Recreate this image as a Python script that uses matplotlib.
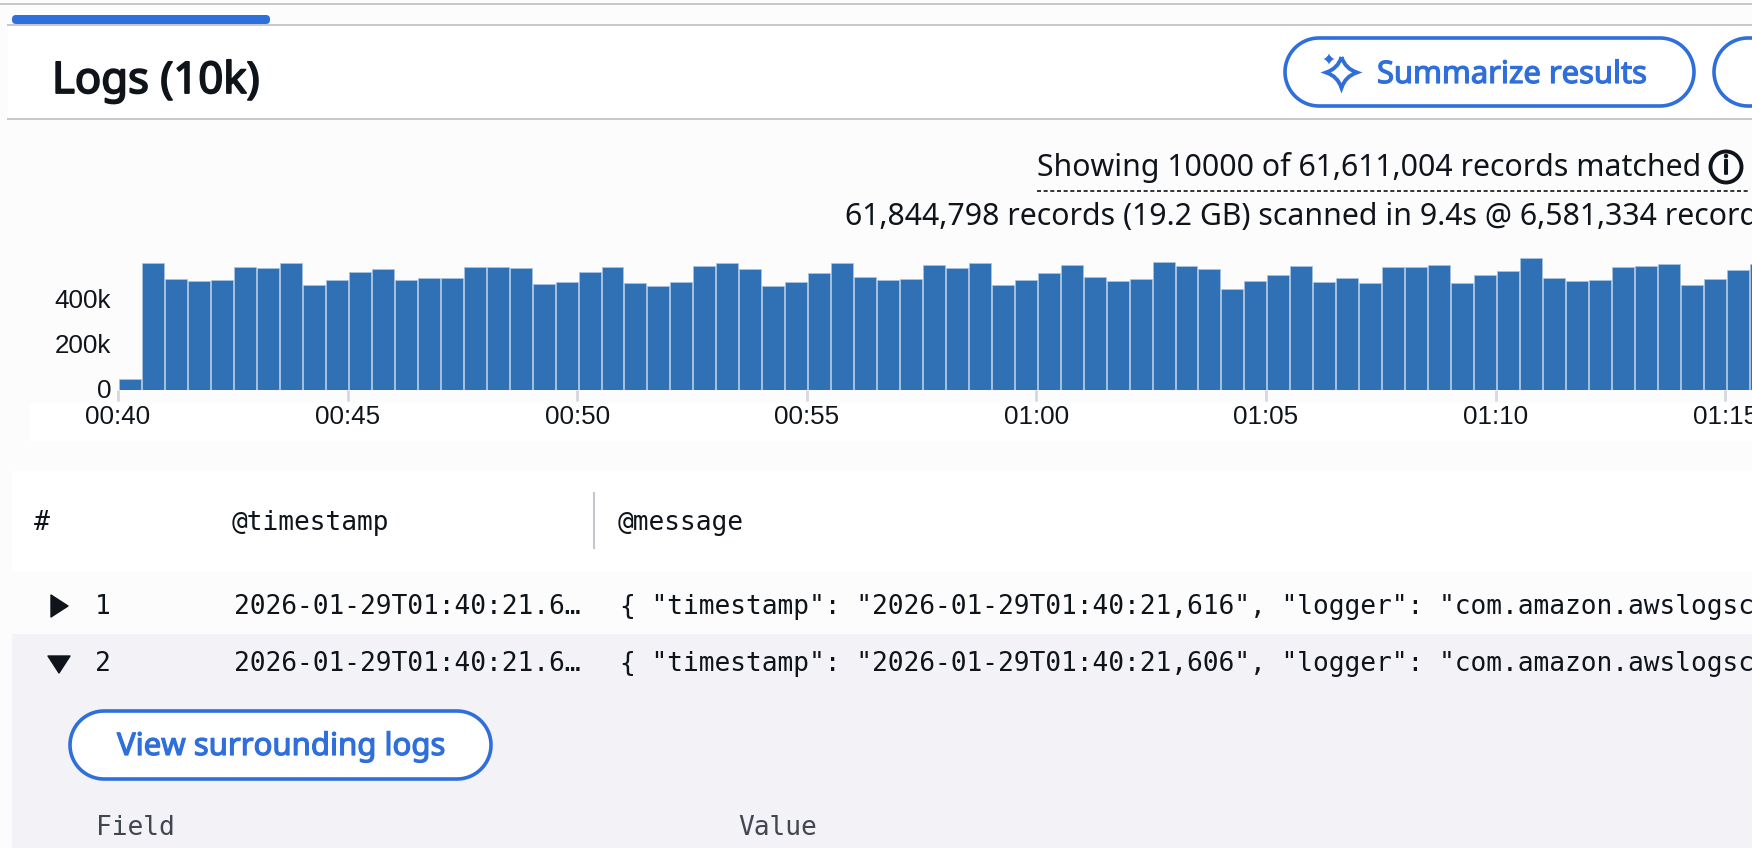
from __future__ import annotations

import matplotlib

matplotlib.use("Agg")
import matplotlib.patheffects as pe
import matplotlib.pyplot as plt
import numpy as np
from matplotlib.patches import Circle, FancyBboxPatch, PathPatch, Polygon, Rectangle
from matplotlib.path import Path
from matplotlib.transforms import ScaledTranslation

# records per 30 s bin (thousands)
bin_counts_k = [
    49, 570, 495, 488, 492, 549, 547, 567, 468, 491, 526, 543,
    491, 503, 500, 550, 552, 544, 473, 483, 529, 549, 480, 465,
    483, 553, 568, 543, 465, 483, 525, 567, 506, 491, 498, 558,
    547, 567, 471, 491, 525, 559, 504, 486, 497, 571, 553, 540,
    454, 486, 513, 553, 483, 500, 477, 552, 552, 561, 480, 516,
    531, 589, 501, 488, 491, 549, 556, 565, 471, 495, 538, 562,
]
tick_minutes = [0, 5, 10, 15, 20, 25, 30, 35]
tick_labels = ["00:40", "00:45", "00:50", "00:55", "01:00", "01:05", "01:10", "01:15"]
y_ticks_k = [0, 200, 400]
y_labels = ["0", "200k", "400k"]

title = "Logs (10k)"
button_summarize = "Summarize results"
button_surrounding = "View surrounding logs"
matched_line = "Showing 10000 of 61,611,004 records matched"
scanned_line = "61,844,798 records (19.2 GB) scanned in 9.4s @ 6,581,334 records/s"
columns = ["#", "@timestamp", "@message"]
row_numbers = ["1", "2"]
row_times = ["2026-01-29T01:40:21.6…", "2026-01-29T01:40:21.6…"]
row_messages = [
    '{ "timestamp": "2026-01-29T01:40:21,616", "logger": "com.amazon.awslogsc',
    '{ "timestamp": "2026-01-29T01:40:21,606", "logger": "com.amazon.awslogsc',
]
detail_columns = ["Field", "Value"]

WIDTH, HEIGHT = 1752, 848
BLUE = "#2f6fdb"
BAR = "#3071b6"
INK = "#0f141a"
RULE = "#c6c6cd"
SANS = "Noto Sans"
MONO = "DejaVu Sans Mono"
MONO_SIZE = 18.95

fig = plt.figure(figsize=(WIDTH / 100, HEIGHT / 100), dpi=100, facecolor="#fcfcfc")

# page furniture is laid out in pixels, y pointing down
ui = fig.add_axes([0, 0, 1, 1])
ui.set_xlim(0, WIDTH)
ui.set_ylim(HEIGHT, 0)
ui.axis("off")


def box(x0, y0, x1, y1, color):
    ui.add_patch(Rectangle((x0, y0), x1 - x0, y1 - y0, facecolor=color, edgecolor="none"))


def pill(x0, y0, x1, y1):
    r = (y1 - y0) / 2
    cy = (y0 + y1) / 2
    a = np.linspace(-np.pi / 2, np.pi / 2, 40)
    xs = np.r_[x1 - r + r * np.cos(a), x0 + r - r * np.cos(a)]
    ys = np.r_[cy + r * np.sin(a), cy - r * np.sin(a)]
    ui.add_patch(Polygon(np.c_[xs, ys], closed=True, facecolor="white",
                         edgecolor=BLUE, linewidth=2.6))


def star(cx, cy, r, **style):
    k = 0.24 * r
    verts = [(cx, cy - r), (cx + k, cy - k), (cx + r, cy), (cx + k, cy + k),
             (cx, cy + r), (cx - k, cy + k), (cx - r, cy), (cx - k, cy - k), (cx, cy - r)]
    codes = [Path.MOVETO] + [Path.CURVE3] * 8
    ui.add_patch(PathPatch(Path(verts, codes), **style))


def heavy(width, color):
    # the installed Noto Sans only comes out regular, so thicken it
    return [pe.withStroke(linewidth=width, foreground=color)]


box(8, 25, WIDTH, 118, "white")
box(30, 403, WIDTH, 441, "white")
box(12, 471, WIDTH, 571, "white")
box(12, 634, WIDTH, HEIGHT, "#f2f2f7")
ui.plot([0, WIDTH], [4, 4], color=RULE, lw=1.4)
ui.plot([8, WIDTH], [25, 25], color=RULE, lw=1.4)
ui.plot([8, WIDTH], [118.5, 118.5], color=RULE, lw=1.4)
ui.add_patch(FancyBboxPatch((12, 15), 258, 9, boxstyle="round,pad=0,rounding_size=4",
                            facecolor=BLUE, edgecolor="none"))

ui.text(52, 93, title, family=SANS, fontsize=31.4, color=INK, path_effects=heavy(1.3, INK))

pill(1285, 38, 1694, 106)
pill(1714, 38, 2100, 106)
star(1341.5, 72.5, 15.5, facecolor="none", edgecolor=BLUE, linewidth=2.8)
star(1329, 59, 5.5, facecolor=BLUE, edgecolor="none")
ui.text(1377, 83, button_summarize, family=SANS, fontsize=22.25, color=BLUE,
        path_effects=heavy(0.9, BLUE))

ui.text(1037, 176, matched_line, family=SANS, fontsize=21.75, color=INK)
ui.plot([1037, 1749], [190.7, 190.7], color=INK, lw=1.2, dashes=(2.4, 1.6))
ui.add_patch(Circle((1726, 167), 15.5, facecolor="none", edgecolor=INK, linewidth=2.8))
ui.text(1726, 167, "i", family=SANS, fontsize=19, color=INK, ha="center", va="center",
        path_effects=heavy(1.2, INK))
ui.text(845, 225.5, scanned_line, family=SANS, fontsize=21.75, color=INK)

ui.text(34, 530, columns[0], family=MONO, fontsize=MONO_SIZE, color=INK)
ui.text(232, 530, columns[1], family=MONO, fontsize=MONO_SIZE, color=INK)
ui.plot([594, 594], [493, 548], color=RULE, lw=1.5)
ui.text(618, 530, columns[2], family=MONO, fontsize=MONO_SIZE, color=INK)

ui.add_patch(Polygon([(51, 595), (68, 606), (51, 617)], closed=True, facecolor=INK,
                     edgecolor=INK, joinstyle="round", linewidth=1))
ui.add_patch(Polygon([(48, 656), (70, 656), (59, 673)], closed=True, facecolor=INK,
                     edgecolor=INK, joinstyle="round", linewidth=1))
for number, stamp, message, base in zip(row_numbers, row_times, row_messages, [614, 671]):
    ui.text(95, base, number, family=MONO, fontsize=MONO_SIZE, color=INK)
    ui.text(234, base, stamp, family=MONO, fontsize=MONO_SIZE, color=INK)
    ui.text(620, base, message, family=MONO, fontsize=MONO_SIZE, color=INK)

pill(70, 711, 491, 779)
ui.text(117, 755, button_surrounding, family=SANS, fontsize=22.4, color=BLUE,
        path_effects=heavy(0.9, BLUE))
ui.text(96, 835, detail_columns[0], family=MONO, fontsize=MONO_SIZE, color="#424650")
ui.text(738, 835, detail_columns[1], family=MONO, fontsize=MONO_SIZE, color="#424650")

# histogram: x in minutes after 00:40, y in thousands of records
left, base_y, top_y = 118, 390, 247
ax = fig.add_axes([left / WIDTH, (HEIGHT - base_y) / HEIGHT,
                   (WIDTH - left) / WIDTH, (base_y - top_y) / HEIGHT])
ax.patch.set_alpha(0)
bin_minutes = [i * 0.5 + 0.03 for i in range(len(bin_counts_k))]
ax.bar(bin_minutes, bin_counts_k, width=0.478, align="edge", color=BAR,
       edgecolor="#a8c5e2", linewidth=0.5)
ax.set_xlim(0, (WIDTH - left) / 45.92)
ax.set_ylim(0, 640)
for spine in ax.spines.values():
    spine.set_visible(False)
ax.set_xticks(tick_minutes, tick_labels, family="Liberation Sans", fontsize=18.7, color=INK)
ax.set_yticks(y_ticks_k, y_labels, family="Liberation Sans", fontsize=18.7, color=INK)
ax.tick_params(axis="x", length=8, width=2, color="#d5d8dc", pad=3)
ax.tick_params(axis="y", length=0, pad=5)
lift = ScaledTranslation(0, 2 / 100, fig.dpi_scale_trans)
for label in ax.get_yticklabels():
    label.set_transform(label.get_transform() + lift)

fig.savefig("out.png", dpi=100, facecolor=fig.get_facecolor())
